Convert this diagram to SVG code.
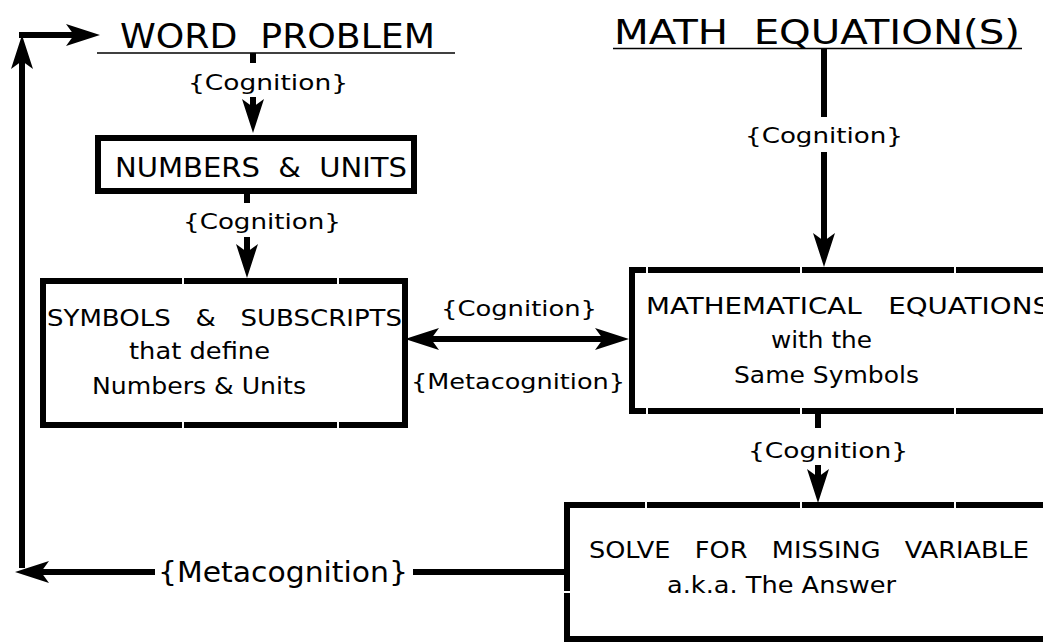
<svg xmlns="http://www.w3.org/2000/svg" width="1043" height="642" viewBox="0 0 1043 642">
<style>
  text { font-family: "DejaVu Sans", "Liberation Sans", sans-serif; fill: #000; }
  .title { font-size: 34px; }
  .box { fill: #fff; stroke: #000; stroke-width: 6; }
  .big { font-size: 27px; }
  .mid { font-size: 23px; }
  .lbl { font-size: 22px; }
  .con { stroke: #000; stroke-width: 6; fill: none; }
  .ul { stroke: #000; stroke-width: 1.6; }
  .gap { fill: #fff; }
</style>
<defs>
  <marker id="ah" viewBox="0 0 34 22" refX="8" refY="11" markerWidth="34" markerHeight="22" markerUnits="userSpaceOnUse" orient="auto-start-reverse">
    <path d="M0,0 L34,11 L0,22 L8,11 Z" fill="#000"/>
  </marker>
</defs>
<rect width="1043" height="642" fill="#fff"/>

<g id="word-problem">
  <text class="title" x="120" y="48" textLength="315" lengthAdjust="spacingAndGlyphs" xml:space="preserve">WORD  PROBLEM</text>
  <line class="ul" x1="97" y1="53" x2="455" y2="53"/>
</g>

<g id="math-equations-title">
  <text class="title" x="614" y="44" textLength="406" lengthAdjust="spacingAndGlyphs" xml:space="preserve">MATH  EQUATION(S)</text>
  <line class="ul" x1="613" y1="48.5" x2="1022" y2="48.5"/>
</g>

<g id="numbers-units">
  <rect class="box" x="98" y="138" width="316" height="53"/>
  <text class="big" x="115" y="177" textLength="292" lengthAdjust="spacingAndGlyphs" xml:space="preserve">NUMBERS  &amp;  UNITS</text>
</g>

<g id="symbols-subscripts">
  <rect class="box" x="43" y="281" width="362" height="144"/>
  <rect class="gap" x="182" y="277" width="2" height="8"/>
  <rect class="gap" x="337" y="277" width="2" height="8"/>
  <rect class="gap" x="182" y="421" width="2" height="8"/>
  <rect class="gap" x="337" y="421" width="2" height="8"/>
  <text class="mid" x="47" y="326" textLength="355" lengthAdjust="spacingAndGlyphs" xml:space="preserve">SYMBOLS   &amp;   SUBSCRIPTS</text>
  <text class="mid" x="129" y="359" textLength="141" lengthAdjust="spacingAndGlyphs">that define</text>
  <text class="mid" x="92" y="394" textLength="214" lengthAdjust="spacingAndGlyphs">Numbers &amp; Units</text>
</g>

<g id="mathematical-equations">
  <rect class="box" x="632" y="270" width="500" height="141"/>
  <rect class="gap" x="646" y="266" width="2" height="8"/>
  <rect class="gap" x="800" y="266" width="2" height="8"/>
  <rect class="gap" x="954" y="266" width="2" height="8"/>
  <rect class="gap" x="646" y="407" width="2" height="8"/>
  <rect class="gap" x="800" y="407" width="2" height="8"/>
  <rect class="gap" x="954" y="407" width="2" height="8"/>
  <text class="mid" x="646" y="314" textLength="404" lengthAdjust="spacingAndGlyphs" xml:space="preserve">MATHEMATICAL   EQUATIONS</text>
  <text class="mid" x="771" y="348" textLength="101" lengthAdjust="spacingAndGlyphs">with the</text>
  <text class="mid" x="734" y="383" textLength="185" lengthAdjust="spacingAndGlyphs">Same Symbols</text>
</g>

<g id="solve">
  <rect class="box" x="567" y="505" width="600" height="134"/>
  <rect class="gap" x="645" y="501" width="2" height="8"/>
  <rect class="gap" x="800" y="501" width="2" height="8"/>
  <rect class="gap" x="954" y="501" width="2" height="8"/>
  <rect class="gap" x="563" y="591" width="8" height="2"/>
  <text class="mid" x="589" y="558" textLength="440" lengthAdjust="spacingAndGlyphs" xml:space="preserve">SOLVE   FOR   MISSING   VARIABLE</text>
  <text class="mid" x="667" y="593" textLength="229" lengthAdjust="spacingAndGlyphs">a.k.a. The Answer</text>
</g>

<g id="connectors">
  <!-- word problem -> numbers -->
  <line class="con" x1="253" y1="53" x2="253" y2="63"/>
  <text class="lbl" x="188" y="90" textLength="160" lengthAdjust="spacingAndGlyphs">{Cognition}</text>
  <line class="con" x1="253" y1="97" x2="253" y2="107" marker-end="url(#ah)"/>

  <!-- numbers -> symbols -->
  <line class="con" x1="247" y1="191" x2="247" y2="203"/>
  <text class="lbl" x="183" y="229" textLength="158" lengthAdjust="spacingAndGlyphs">{Cognition}</text>
  <line class="con" x1="247" y1="237" x2="247" y2="252" marker-end="url(#ah)"/>

  <!-- math title -> mathematical equations -->
  <line class="con" x1="824" y1="48" x2="824" y2="117"/>
  <text class="lbl" x="745" y="143" textLength="158" lengthAdjust="spacingAndGlyphs">{Cognition}</text>
  <line class="con" x1="824" y1="152" x2="824" y2="241" marker-end="url(#ah)"/>

  <!-- symbols <-> mathematical equations -->
  <line class="con" x1="431" y1="339" x2="603" y2="339" marker-start="url(#ah)" marker-end="url(#ah)"/>
  <text class="lbl" x="441" y="316" textLength="156" lengthAdjust="spacingAndGlyphs">{Cognition}</text>
  <text class="lbl" x="411" y="389" textLength="214" lengthAdjust="spacingAndGlyphs">{Metacognition}</text>

  <!-- mathematical equations -> solve -->
  <line class="con" x1="818" y1="411" x2="818" y2="428"/>
  <text class="lbl" x="748" y="458" textLength="160" lengthAdjust="spacingAndGlyphs">{Cognition}</text>
  <line class="con" x1="818" y1="465" x2="818" y2="477" marker-end="url(#ah)"/>

  <!-- solve -> back to word problem (metacognition loop) -->
  <line class="con" x1="567" y1="572" x2="413" y2="572"/>
  <text x="158" y="582" style="font-size:28px" textLength="250" lengthAdjust="spacingAndGlyphs">{Metacognition}</text>
  <line class="con" x1="155" y1="572" x2="41" y2="572" marker-end="url(#ah)"/>
  <line class="con" x1="22" y1="568" x2="22" y2="61" marker-end="url(#ah)"/>
  <line class="con" x1="19" y1="35" x2="74" y2="35" marker-end="url(#ah)"/>
</g>
</svg>
